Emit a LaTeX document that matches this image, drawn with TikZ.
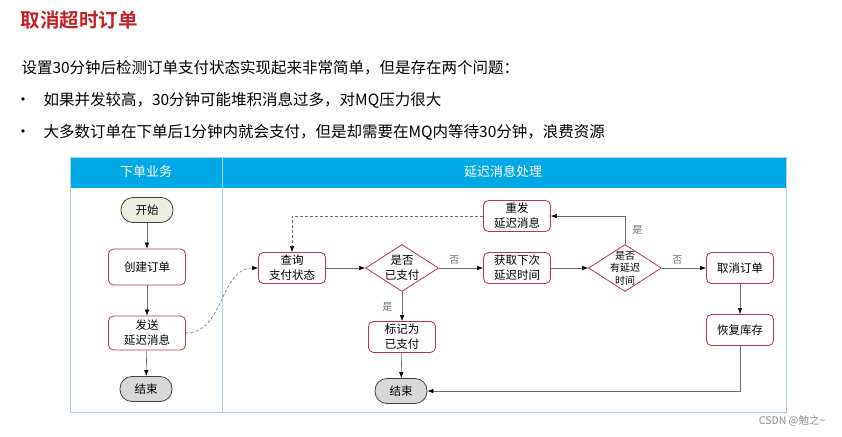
\documentclass[tikz,border=0pt]{standalone}
\usepackage{fontspec}
\setmainfont{Noto Sans CJK SC}[BoldFont={Noto Sans CJK SC Bold}]
\newfontfamily\simboli{DejaVu Sans}
\usetikzlibrary{shapes.geometric,arrows.meta}
\definecolor{titolo}{RGB}{195,35,40}
\definecolor{bordo}{RGB}{180,55,70}
\definecolor{intest}{RGB}{0,168,230}
\definecolor{cornice}{RGB}{175,205,230}
\definecolor{linea}{RGB}{110,110,110}
\definecolor{avvio}{RGB}{238,238,222}
\definecolor{chiuso}{RGB}{216,216,216}

\begin{document}
\begin{tikzpicture}[x=1pt,y=-1pt,
    passo/.style={draw=bordo, thick, rounded corners=5pt, fill=white, minimum width=67pt, minimum height=31pt,
      align=center, inner sep=1pt, font=\fontsize{11.5}{15}\selectfont},
    scelta/.style={diamond, draw=bordo, thick, fill=white, minimum width=73pt, minimum height=47pt,
      inner sep=-10pt, align=center, font=\fontsize{11.5}{15}\selectfont},
    terminale/.style={draw=black!75, thick, rounded corners=12pt, minimum width=52pt, minimum height=25pt,
      inner sep=1pt, font=\fontsize{11.5}{14}\selectfont},
    freccia/.style={draw=linea, semithick, -{Latex[black,length=6pt,width=4.5pt]}},
    tratteggio/.style={dash pattern=on 3pt off 2pt},
    etich/.style={font=\fontsize{10}{12}\selectfont, text=black!55},
    elenco/.style={font=\simboli\fontsize{11}{13}\selectfont}]

    % Area della pagina
    \fill[white] (0,0) rectangle (842,436);
    \useasboundingbox (0,0) rectangle (842,436);

    % Titolo e testo
    \node[anchor=west, text=titolo, font=\fontsize{19.5}{22}\selectfont\bfseries] (titolo) at (17,20) {取消超时订单};
    \node[anchor=west, font=\fontsize{15.5}{18}\selectfont] (intro) at (18,68) {设置30分钟后检测订单支付状态实现起来非常简单，但是存在两个问题：};
    \node[elenco] (punto1) at (23,101) {•};
    \node[anchor=west, font=\fontsize{15.5}{18}\selectfont] (riga1) at (40,100) {如果并发较高，30分钟可能堆积消息过多，对MQ压力很大};
    \node[elenco] (punto2) at (23,133) {•};
    \node[anchor=west, font=\fontsize{15.5}{18}\selectfont] (riga2) at (40,132) {大多数订单在下单后1分钟内就会支付，但是却需要在MQ内等待30分钟，浪费资源};

    % Tabella a corsie
    \fill[intest] (70,157) rectangle (786,188);
    \draw[cornice, semithick] (70,157) rectangle (786,412);
    \draw[cornice, semithick] (222,157) -- (222,412);
    \node[text=white, font=\fontsize{13}{15}\selectfont] (corsia1) at (146,172) {下单业务};
    \node[text=white, font=\fontsize{13}{15}\selectfont] (corsia2) at (503,172) {延迟消息处理};

    % Corsia sinistra
    \node[terminale, fill=avvio] (inizio) at (147,210) {开始};
    \node[passo, minimum width=77pt, minimum height=36pt] (crea) at (147,267) {创建订单};
    \node[passo, minimum width=77pt, minimum height=34pt] (invia) at (147,333) {发送\\延迟消息};
    \node[terminale, fill=chiuso] (fine1) at (146,389) {结束};

    % Corsia destra
    \node[passo] (query) at (292,268) {查询\\支付状态};
    \node[scelta] (pagato) at (402,268) {是否\\已支付};
    \node[passo] (prossimo) at (517,268) {获取下次\\延迟时间};
    \node[scelta, font=\fontsize{10}{12.5}\selectfont, inner sep=-14pt] (ritardo) at (625,268) {是否\\有延迟\\时间};
    \node[passo] (annulla) at (740,268) {取消订单};
    \node[passo] (ripristina) at (740,330) {恢复库存};
    \node[passo] (reinvia) at (517,216) {重发\\延迟消息};
    \node[passo] (segna) at (402,337) {标记为\\已支付};
    \node[terminale, fill=chiuso] (fine2) at (401,391) {结束};

    % Collegamenti
    \draw[freccia] (inizio) -- (crea);
    \draw[freccia] (crea) -- (invia);
    \draw[freccia] (invia) -- (fine1);
    \draw[freccia, tratteggio] (invia.east) to[out=0, in=180] (query.west);
    \draw[freccia] (query) -- (pagato);
    \draw[freccia] (pagato) -- node[etich, above, pos=0.35] {否} (prossimo);
    \draw[freccia] (pagato) -- node[etich, left=6pt] {是} (segna);
    \draw[freccia] (segna) -- (fine2);
    \draw[freccia] (prossimo) -- (ritardo);
    \draw[freccia] (ritardo) -- node[etich, above, pos=0.35] {否} (annulla);
    \draw[freccia] (ritardo.north) |- node[etich, right=4pt, pos=0.25] {是} (reinvia.east);
    \draw[freccia, tratteggio] (reinvia.west) -| (query.north);
    \draw[freccia] (annulla) -- (ripristina);
    \draw[freccia] (ripristina.south) |- (fine2.east);

    % Firma
    \node[anchor=east, text=black!45, font=\fontsize{10.5}{12}\selectfont] (firma) at (829,421) {CSDN @勉之\textasciitilde};
\end{tikzpicture}
\end{document}
